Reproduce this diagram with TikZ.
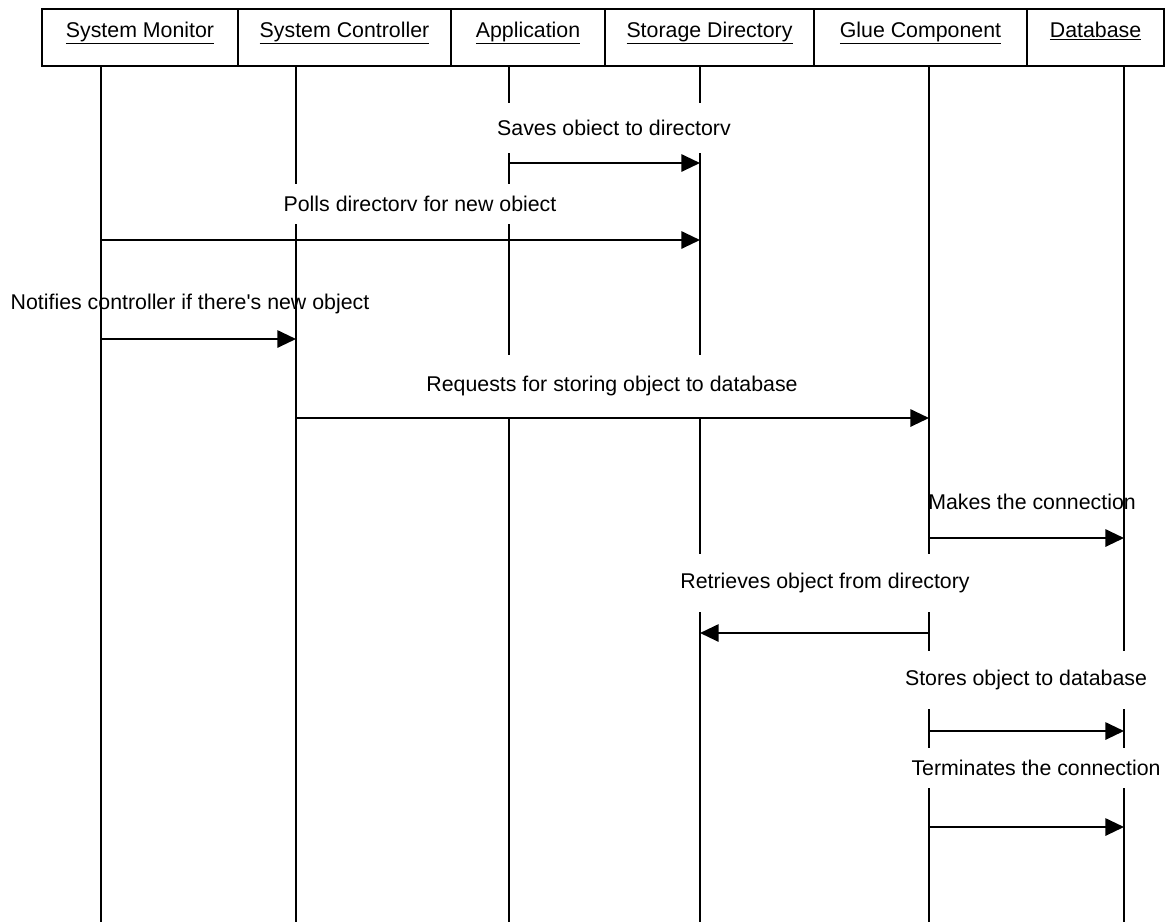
\documentclass[tikz,border=0pt]{standalone}
\usepackage{fontspec}
\setmainfont{Liberation Sans}
\usetikzlibrary{arrows.meta}
\begin{document}
\begin{tikzpicture}[x=0.75pt,y=-0.75pt,
  txt/.style={font=\fontsize{16}{19}\selectfont},
  hdr/.style={draw, line width=1.1pt, minimum height=42.75pt, inner sep=0pt},
  hdrtext/.style={txt, anchor=north, inner sep=0pt, yshift=-10pt},
  life/.style={line width=1.3pt},
  msg/.style={line width=1.5pt, -{Triangle[length=14pt,width=13pt]}},
  lbl/.style={txt, fill=white, inner xsep=1pt, inner ysep=0pt, minimum height=#1},
  lbl/.default=33pt,
  note/.style={txt, inner sep=1pt}
]
\useasboundingbox (0,0) rectangle (1169,922);

% object boxes across the top
\node[hdr, minimum width=147pt,    label={[hdrtext]north:\underline{System Monitor}}]     (hsm)  at (140,37.5)   {};
\node[hdr, minimum width=159.75pt, label={[hdrtext]north:\underline{System Controller}}]  (hsc)  at (344.5,37.5) {};
\node[hdr, minimum width=115.5pt,  label={[hdrtext]north:\underline{Application}}]        (happ) at (528,37.5)   {};
\node[hdr, minimum width=156.75pt, label={[hdrtext]north:\underline{Storage Directory}}]  (hsd)  at (709.5,37.5) {};
\node[hdr, minimum width=159.75pt, label={[hdrtext]north:\underline{Glue Component}}]     (hgc)  at (920.5,37.5) {};
\node[hdr, minimum width=102.75pt, label={[hdrtext]north:\underline{Database}}]           (hdb)  at (1095.5,37.5){};

% lifeline tops and the bottom edge
\coordinate (sm)  at (101,66);
\coordinate (sc)  at (296,66);
\coordinate (app) at (509,66);
\coordinate (sd)  at (700,66);
\coordinate (gc)  at (929,66);
\coordinate (db)  at (1124,66);
\coordinate (bot) at (0,922);

% message rows
\coordinate (r1) at (0,163);
\coordinate (r2) at (0,240);
\coordinate (r3) at (0,339);
\coordinate (r4) at (0,418);
\coordinate (r5) at (0,538);
\coordinate (r6) at (0,633);
\coordinate (r7) at (0,731);
\coordinate (r8) at (0,827);

% lifelines
\foreach \c in {sm,sc,app,sd,gc,db}
  \draw[life] (\c) -- (\c |- bot);

% message labels (white boxes hide the lifelines behind them)
\node[lbl=37pt] (l1) at (614,128)  {Saves obiect to directorv};
\node[lbl=30pt] (l2) at (420,204)  {Polls directorv for new obiect};
\node[note]     (l3) at (190,304)  {Notifies controller if there\textquotesingle s new object};
\node[lbl=46pt] (l4) at (612,386)  {Requests for storing object to database};
\node[note]     (l5) at (1032,502) {Makes the connection};
\node[lbl=44pt] (l6) at (825,583)  {Retrieves object from directory};
\node[lbl=44pt] (l7) at (1026,680) {Stores object to database};
\node[lbl=30pt] (l8) at (1036,768) {Terminates the connection};

% messages
\draw[msg] (app |- r1) -- (sd |- r1);
\draw[msg] (sm |- r2)  -- (sd |- r2);
\draw[msg] (sm |- r3)  -- (sc |- r3);
\draw[msg] (sc |- r4)  -- (gc |- r4);
\draw[msg] (gc |- r5)  -- (db |- r5);
\draw[msg] (gc |- r6)  -- (sd |- r6);
\draw[msg] (gc |- r7)  -- (db |- r7);
\draw[msg] (gc |- r8)  -- (db |- r8);
\end{tikzpicture}
\end{document}
